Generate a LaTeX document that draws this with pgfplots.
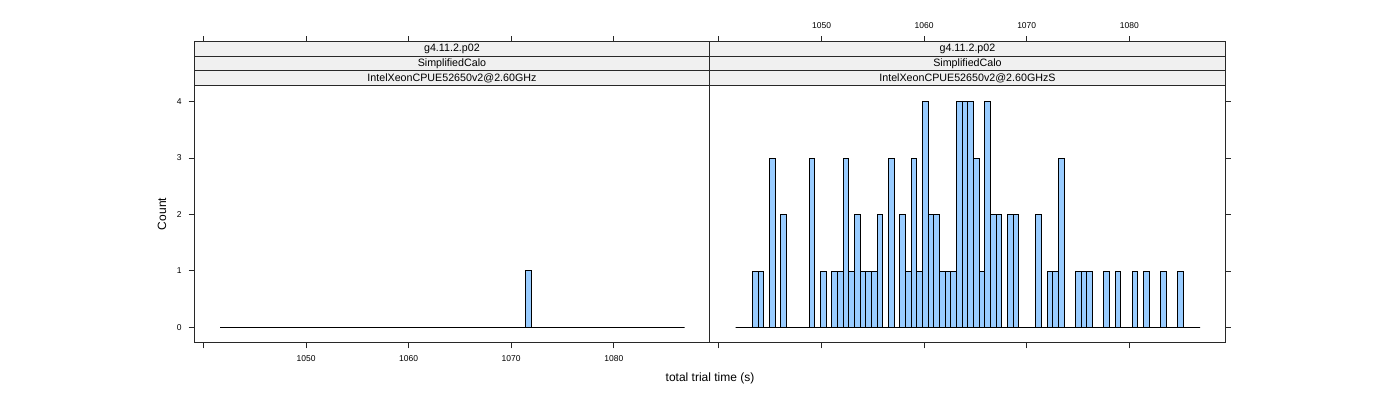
\documentclass[border=0pt]{standalone}
\usepackage{pgfplots}
\pgfplotsset{compat=1.18}
\usepackage{pgfplotstable}
\usepackage{fontspec}
\setmainfont{Liberation Sans}
\definecolor{barblue}{RGB}{153,204,255}
\definecolor{stripgray}{RGB}{240,240,240}
\definecolor{frame}{RGB}{40,40,40}
\pgfplotstableread{
x l r
1041.630 0 0
1042.182 0 0
1042.734 0 0
1043.286 0 1
1043.838 0 1
1044.390 0 0
1044.942 0 3
1045.494 0 0
1046.046 0 2
1046.598 0 0
1047.150 0 0
1047.702 0 0
1048.254 0 0
1048.806 0 3
1049.358 0 0
1049.910 0 1
1050.462 0 0
1051.014 0 1
1051.566 0 1
1052.118 0 3
1052.670 0 1
1053.222 0 2
1053.774 0 1
1054.326 0 1
1054.878 0 1
1055.430 0 2
1055.982 0 0
1056.534 0 3
1057.086 0 0
1057.638 0 2
1058.190 0 1
1058.742 0 3
1059.294 0 1
1059.846 0 4
1060.398 0 2
1060.950 0 2
1061.502 0 1
1062.054 0 1
1062.606 0 1
1063.158 0 4
1063.710 0 4
1064.262 0 4
1064.814 0 3
1065.366 0 1
1065.918 0 4
1066.470 0 2
1067.022 0 2
1067.574 0 0
1068.126 0 2
1068.678 0 2
1069.230 0 0
1069.782 0 0
1070.334 0 0
1070.886 0 2
1071.438 1 0
1071.990 0 1
1072.542 0 1
1073.094 0 3
1073.646 0 0
1074.198 0 0
1074.750 0 1
1075.302 0 1
1075.854 0 1
1076.406 0 0
1076.958 0 0
1077.510 0 1
1078.062 0 0
1078.614 0 1
1079.166 0 0
1079.718 0 0
1080.270 0 1
1080.822 0 0
1081.374 0 1
1081.926 0 0
1082.478 0 0
1083.030 0 1
1083.582 0 0
1084.134 0 0
1084.686 0 1
1085.238 0 0
1085.790 0 0
1086.342 0 0
1086.894 0 0
}\hist
\newcommand{\tickfont}{\fontsize{4.25}{5}\selectfont}
\newcommand{\stripfont}{\fontsize{5.35}{6}\selectfont}
\begin{document}
\begin{tikzpicture}
\useasboundingbox (0,0) rectangle (700pt,200pt);
\pgfplotsset{
  panel/.style={scale only axis, width=257.75pt, height=128.7pt,
    xmin=1039.1, xmax=1089.35, ymin=-0.269, ymax=4.287,
    axis line style={frame, line width=0.5pt},
    tick style={frame, line width=0.5pt},
    tick align=outside, major tick length=2.8pt,
    xtick={1050,1060,1070,1080}, extra x ticks={1040}, extra x tick labels={},
    ytick={0,1,2,3,4},
    ticklabel style={font=\tickfont},
    /pgf/number format/assume math mode=true,
    /pgf/number format/1000 sep={}},
  topaxis/.style={scale only axis, width=257.75pt, height=150.5pt,
    xmin=1039.1, xmax=1089.35, ymin=0, ymax=1,
    axis x line*=top, axis y line=none,
    axis line style={frame, line width=0.5pt},
    tick style={frame, line width=0.5pt},
    tick align=outside, major tick length=2.8pt,
    xtick={1050,1060,1070,1080}, extra x ticks={1040}, extra x tick labels={},
    ticklabel style={font=\tickfont},
    /pgf/number format/assume math mode=true,
    /pgf/number format/1000 sep={}},
  bars/.style={ybar interval, fill=barblue, draw=black, line width=0.5pt},
}
\begin{axis}[panel, name=L, at={(97.1pt,28.65pt)}, anchor=south west,
  xtick pos=bottom, ytick pos=left]
\addplot[bars] table[x=x, y=l]{\hist};
\end{axis}
\begin{axis}[panel, name=R, at={(354.85pt,28.65pt)}, anchor=south west,
  xtick pos=bottom, ytick pos=right, xticklabels={}, yticklabels={}]
\addplot[bars] table[x=x, y=r]{\hist};
\end{axis}
% strips
\foreach \p in {L,R}{
  \draw[fill=stripgray, draw=frame, line width=0.5pt] (\p.north west) rectangle ([yshift=7.25pt]\p.north east);
  \draw[fill=stripgray, draw=frame, line width=0.5pt] ([yshift=7.25pt]\p.north west) rectangle ([yshift=14.5pt]\p.north east);
  \draw[fill=stripgray, draw=frame, line width=0.5pt] ([yshift=14.5pt]\p.north west) rectangle ([yshift=21.8pt]\p.north east);
  \node[font=\stripfont, inner sep=0pt] at ([yshift=10.875pt]\p.north) {SimplifiedCalo};
  \node[font=\stripfont, inner sep=0pt] at ([yshift=18.15pt]\p.north) {g4.11.2.p02};
}
\node[font=\stripfont, inner sep=0pt] at ([yshift=3.625pt]L.north) {IntelXeonCPUE52650v2@2.60GHz};
\node[font=\stripfont, inner sep=0pt] at ([yshift=3.625pt]R.north) {IntelXeonCPUE52650v2@2.60GHzS};
% top tick axes
\begin{axis}[topaxis, at={(97.1pt,28.65pt)}, anchor=south west, xticklabels={}]
\addplot[draw=none] coordinates {(1060,0.5)};
\end{axis}
\begin{axis}[topaxis, at={(354.85pt,28.65pt)}, anchor=south west]
\addplot[draw=none] coordinates {(1060,0.5)};
\end{axis}
\node[font=\fontsize{6}{7}\selectfont] at (355pt,11pt) {total trial time (s)};
\node[font=\fontsize{6}{7}\selectfont, rotate=90] at (81pt,93pt) {Count};
\end{tikzpicture}
\end{document}
